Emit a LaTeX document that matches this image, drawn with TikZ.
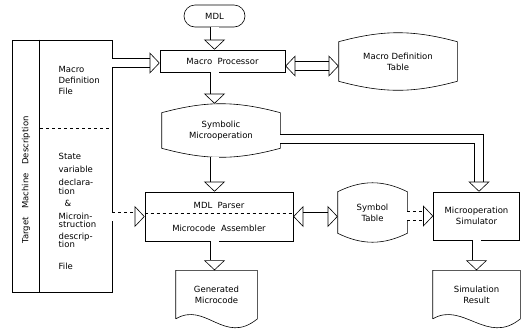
\documentclass[tikz,border=0pt]{standalone}
\usepackage{fontspec}
\setmainfont{DejaVu Sans}
\usetikzlibrary{arrows.meta,positioning}

% outline of a store (drum): #1 node, #2 bend of top and bottom
\newcommand\drumline[2]{%
  \draw ([yshift=-9pt]#1.north west) to[bend left=#2] ([yshift=-9pt]#1.north east)
    -- ([yshift=9pt]#1.south east) to[bend left=#2] ([yshift=9pt]#1.south west) -- cycle;}
% outline of a document with wavy bottom
\newcommand\docline[1]{%
  \draw (#1.south west) -- (#1.north west) -- (#1.north east) -- (#1.south east)
    .. controls +(-33,27) and +(30,-18) .. (#1.south west);}

\begin{document}
\begin{tikzpicture}[x=1pt, y=-1pt, font=\fontsize{8.5}{11}\selectfont, line width=0.6pt,
  >={Triangle[open,length=10pt,width=21pt,line width=0.6pt]},
  blk/.style={double, double distance=8pt},
  proc/.style={draw, align=center, inner sep=0pt},
  drum/.style={align=center, inner sep=0pt},
  doc/.style={align=center, inner sep=0pt, minimum width=81pt, minimum height=48pt}]
\useasboundingbox (0,0) rectangle (522,333);
% processes and stores
\node[proc, rounded corners=11pt, minimum width=61pt, minimum height=22pt] (mdl) at (214.5,16) {MDL};
\node[proc, minimum width=125pt, minimum height=22pt] (macro) at (222.5,61) {Macro\ \ Processor};
\node[drum, minimum width=118pt, minimum height=57pt] (mdt) at (398,61.5) {Macro Definition\\Table};
\node[drum, minimum width=118pt, minimum height=53pt] (symop) at (221,130.5) {Symbolic\\Microoperation};
\node[proc, minimum width=148pt, minimum height=49pt] (parser) at (219,216.5) {MDL\ \ Parser\\[12pt]Microcode\ \ Assembler};
\node[drum, minimum width=69pt, minimum height=59pt] (symtab) at (372.5,212.5) {Symbol\\Table};
\node[proc, minimum width=86pt, minimum height=48pt] (sim) at (476.5,216) {Microoperation\\Simulator};
\node[doc, below=29pt of parser, xshift=-2.5pt] (gencode) {Generated\\Microcode};
\node[doc, minimum width=87pt, below=30pt of sim] (simres) {Simulation\\Result};
\drumline{mdt}{15}
\drumline{symop}{15}
\drumline{symtab}{26}
\docline{gencode}
\docline{simres}
\draw[dashed] ([yshift=3.5pt]parser.west) -- ([yshift=3.5pt]parser.east);
% target machine description
\node[draw, minimum width=100pt, minimum height=252pt, inner sep=0pt] (target) at (62,166) {};
\draw ([xshift=28pt]target.north west) -- ([xshift=28pt]target.south west);
\draw[dashed] (40,128) -- (target.east |- 40,128);
\node[rotate=90] (tmdlabel) at (26,180) {Target\quad Machine\quad Description};
\node[anchor=west, align=left] (mdfile) at (55,80) {Macro\\Definition\\File};
\node[anchor=north west, align=left] (svfile) at (55,150) {State\\[2pt]variable\\[2pt]declara-\\[-2pt]tion\\[1pt]\hspace{6pt}\&\\[2pt]Microin-\\[-3pt]struction\\[1pt]descrip-\\[-3pt]tion\\[11pt]File};
% block arrows
\draw[blk, ->] (mdl.south) -- (mdl.south |- macro.north);
\draw[blk, ->] (mdl.south |- macro.south) -- (mdl.south |- symop.north);
\draw[blk, ->] (mdl.south |- symop.south) -- (mdl.south |- parser.north);
\draw[blk, ->] (mdl.south |- parser.south) -- (mdl.south |- gencode.north);
\draw[blk, <->] ([yshift=-5pt]macro.east) -- ([yshift=-5pt]macro.east -| mdt.west);
\draw[blk, ->] ([yshift=-2pt]macro.west -| target.east) -- ([yshift=-2pt]macro.west);
\draw[blk, dashed, ->] (parser.west -| target.east) -- (parser.west);
\draw[blk, <->] (parser.east) -- (parser.east -| symtab.west);
\draw[blk, dashed, ->] (sim.west -| symtab.east) -- (sim.west);
\draw[blk, ->] ([yshift=-8.5pt]symop.east) -| ([xshift=2.5pt]sim.north);
\draw[blk, ->] (sim.south) -- (simres.north);
\end{tikzpicture}
\end{document}
